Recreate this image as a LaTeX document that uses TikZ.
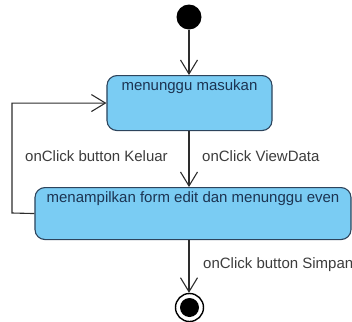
\documentclass[tikz,border=0pt]{standalone}
\usepackage{fontspec}
\setmainfont{Liberation Sans}
\usetikzlibrary{arrows.meta}

\definecolor{statefill}{RGB}{122,204,243}
\definecolor{stateedge}{RGB}{45,68,92}
\definecolor{statetext}{RGB}{28,52,82}
\definecolor{guardtext}{RGB}{60,60,60}
\definecolor{flowline}{RGB}{45,45,45}

\tikzset{
  statebox/.style={draw=stateedge, fill=statefill, line width=1.1bp,
    rounded corners=10bp, text=statetext, anchor=north,
    font=\fontsize{15bp}{18bp}\selectfont,
    inner ysep=4bp, text height=11bp},
  guard/.style={text=guardtext, anchor=base west, inner sep=0pt,
    font=\fontsize{15bp}{18bp}\selectfont},
  flow/.style={draw=flowline, line width=1.1bp,
    -{Straight Barb[length=14bp,width=17bp,line width=1.1bp]}},
  initstate/.style={circle, fill=black, minimum size=25bp, inner sep=0pt},
  finalring/.style={circle, draw=black, fill=white, line width=1.4bp,
    minimum size=28bp, inner sep=0pt},
}

\begin{document}
\begin{tikzpicture}[x=1bp, y=-1bp]
  \useasboundingbox (0,0) rectangle (352,322);

  % initial and final states
  \node[initstate] (start) at (189,17) {};
  \node[finalring] (final) at (189.5,307.5) {};
  \fill[black] (final.center) circle (9.5bp);

  % activity states
  \node[statebox, minimum width=165bp, text depth=36bp] (wait) at (189.5,75)
    {menunggu masukan};
  \node[statebox, minimum width=316bp, text depth=33bp] (edit) at (193,187)
    {menampilkan form edit dan menunggu even};

  % transitions
  \draw[flow] (start) -- (start |- wait.north);
  \draw[flow] (wait.south -| start) -- (edit.north -| start);
  \draw[flow] (edit.south -| start) -- (final.north -| start);
  \coordinate (loopbot) at (12,213);
  \draw[flow] (edit.west) -- (loopbot) |- (wait.west);

  % guard labels
  \node[guard] (gkeluar) at (25,161) {onClick button Keluar};
  \node[guard] (gview) at (202,161) {onClick ViewData};
  \node[guard] (gsimpan) at (203,268) {onClick button Simpan};
\end{tikzpicture}
\end{document}
